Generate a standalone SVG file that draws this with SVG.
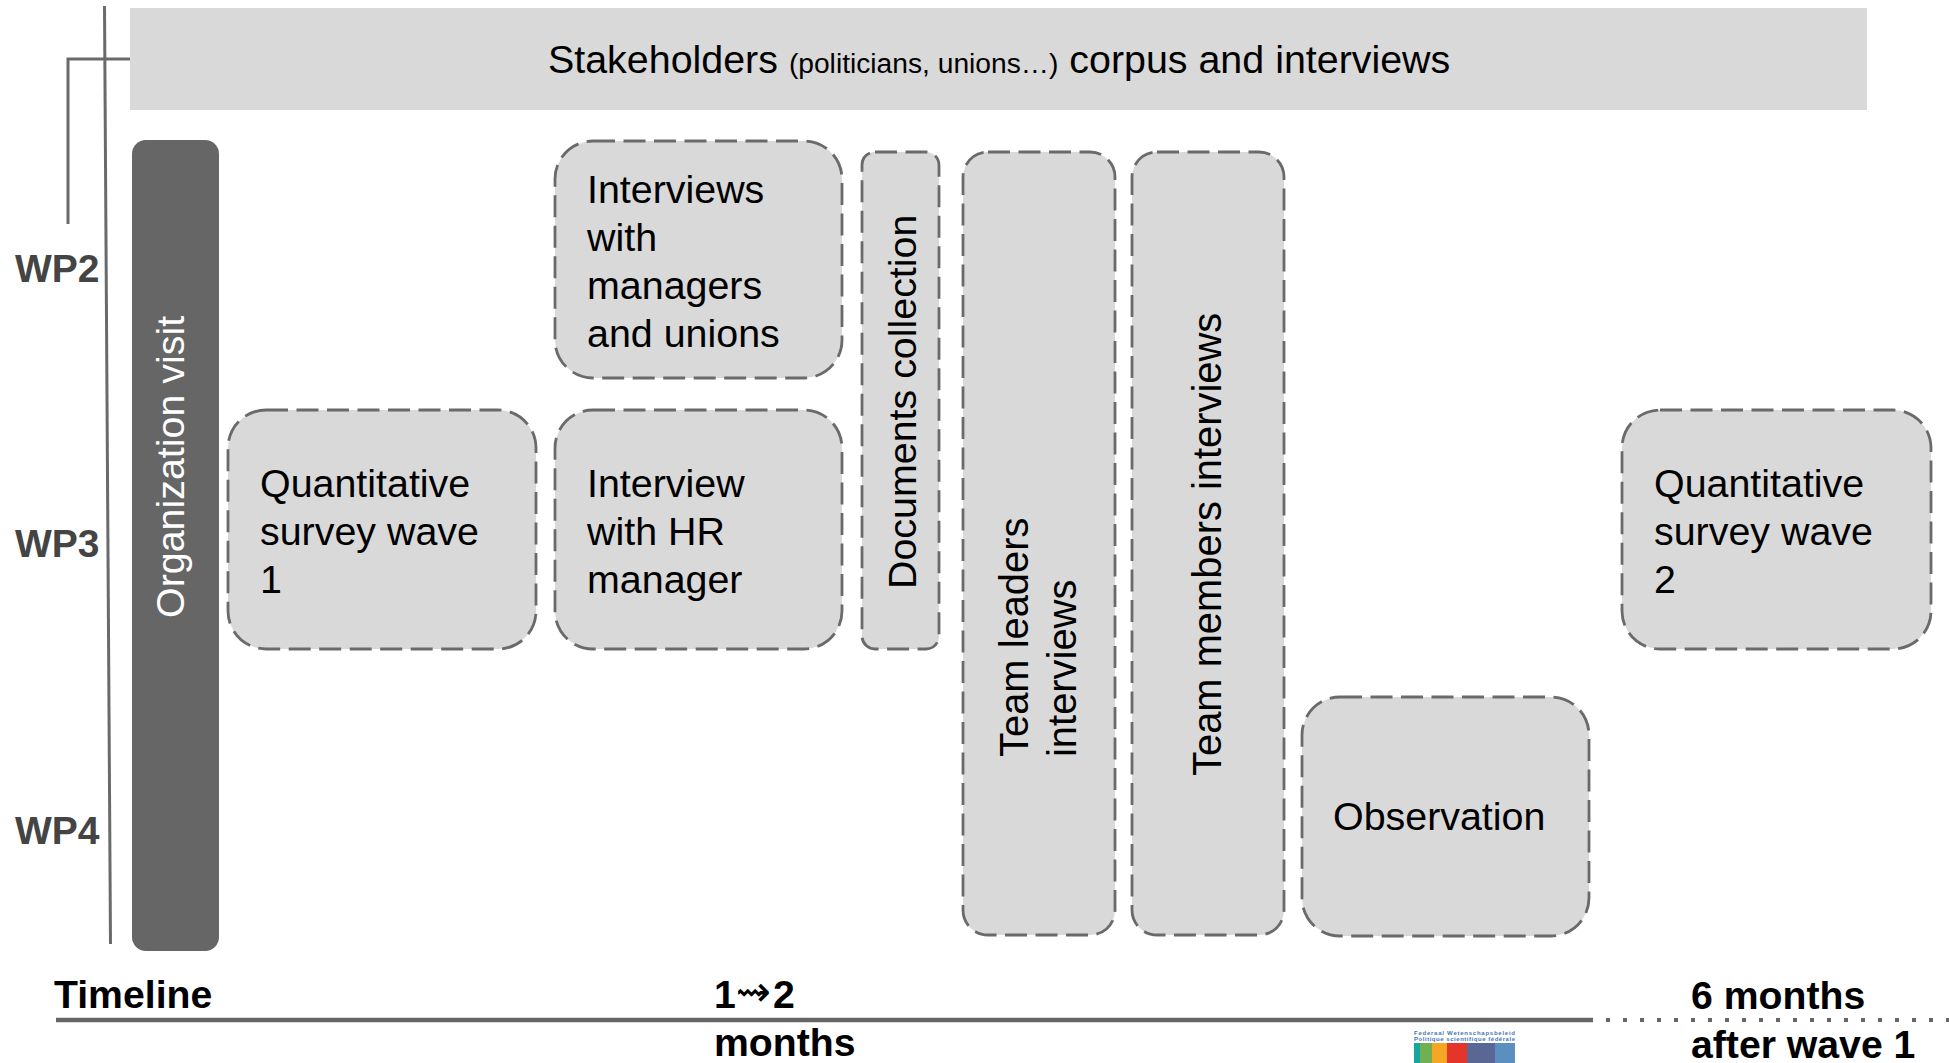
<svg xmlns="http://www.w3.org/2000/svg" width="1949" height="1063" viewBox="0 0 1949 1063">
<style>
text{font-family:"Liberation Sans",Arial,sans-serif;fill:#000}
.box{fill:#d9d9d9;stroke:#6a6a6a;stroke-width:2.800;stroke-dasharray:22 8.500}
.t{font-size:39.400px}
.v{font-size:39.900px}
.wp{font-size:39px;font-weight:bold;fill:#444}
.b{font-size:39.200px;font-weight:bold}
.line{fill:none;stroke:#6a6a6a;stroke-width:3}
</style>
<rect width="1949" height="1063" fill="#fff"/>
<g id="connectors">
<path class="line" d="M104.500 6L110.500 944"/>
<path class="line" d="M68 224V59H130"/>
<path d="M56 1020H1593" fill="none" stroke="#666" stroke-width="4.500"/>
<path d="M1606 1020H1949" fill="none" stroke="#666" stroke-width="4" stroke-dasharray="4 13"/>
</g>
<g id="stakeholders">
<rect x="130" y="8" width="1737" height="102" fill="#d9d9d9"/>
<text x="548" y="72.500" class="t">Stakeholders <tspan font-size="28.200">(politicians, unions…)</tspan> corpus and interviews</text>
</g>
<g id="organization-visit">
<rect x="132" y="140" width="87" height="811" rx="14" fill="#666"/>
<text transform="translate(184 618) rotate(-90)" class="t" style="fill:#fff">Organization visit</text>
</g>
<g id="interviews-managers">
<rect class="box" x="555" y="141" width="287" height="237" rx="38"/>
<text class="t" x="587" y="203">Interviews</text><text class="t" x="587" y="251">with</text><text class="t" x="587" y="299">managers</text><text class="t" x="587" y="347">and unions</text>
</g>
<g id="documents-collection">
<rect class="box" x="862" y="152" width="77" height="497" rx="13"/>
<text transform="translate(916 589) rotate(-90)" class="t">Documents collection</text>
</g>
<g id="team-leaders">
<rect class="box" x="963" y="152" width="152" height="783" rx="25"/>
<text transform="translate(1028 757) rotate(-90)" class="v">Team leaders</text>
<text transform="translate(1076 757) rotate(-90)" class="v">interviews</text>
</g>
<g id="team-members">
<rect class="box" x="1132" y="152" width="152" height="783" rx="25"/>
<text transform="translate(1221 776) rotate(-90)" class="v">Team members interviews</text>
</g>
<g id="survey-wave-1">
<rect class="box" x="228" y="410" width="308" height="239" rx="38"/>
<text class="t" x="260" y="496.500">Quantitative</text><text class="t" x="260" y="544.500">survey wave</text><text class="t" x="260" y="592.500">1</text>
</g>
<g id="interview-hr">
<rect class="box" x="555" y="410" width="287" height="239" rx="38"/>
<text class="t" x="587" y="496.500">Interview</text><text class="t" x="587" y="544.500">with HR</text><text class="t" x="587" y="592.500">manager</text>
</g>
<g id="observation">
<rect class="box" x="1302" y="697" width="287" height="239" rx="38"/>
<text class="t" x="1333" y="830">Observation</text>
</g>
<g id="survey-wave-2">
<rect class="box" x="1622" y="410" width="309" height="239" rx="38"/>
<text class="t" x="1654" y="496.500">Quantitative</text><text class="t" x="1654" y="544.500">survey wave</text><text class="t" x="1654" y="592.500">2</text>
</g>
<g id="labels">
<text class="wp" x="15" y="282">WP2</text>
<text class="wp" x="15" y="557">WP3</text>
<text class="wp" x="15" y="844">WP4</text>
<text class="b" x="54" y="1008">Timeline</text>
<text class="b" x="714" y="1008">1<tspan font-family="DejaVu Sans" font-size="42" font-weight="normal" dy="-2">⇝</tspan><tspan dx="2" dy="2">2</tspan></text>
<text class="b" x="714" y="1056">months</text>
<text class="b" x="1691" y="1009">6 months</text>
<text class="b" x="1691" y="1058">after wave 1</text>
</g>
<g id="logo">
<text x="1414" y="1035" font-size="6" font-weight="bold" textLength="101" style="fill:#3f78b5">Federaal Wetenschapsbeleid</text>
<text x="1414" y="1041" font-size="6" font-weight="bold" textLength="101" style="fill:#3f78b5">Politique scientifique fédérale</text>
<rect x="1414" y="1043" width="6" height="20" fill="#16a5a0"/>
<rect x="1420" y="1043" width="12" height="20" fill="#70b050"/>
<rect x="1432" y="1043" width="15" height="20" fill="#f5a623"/>
<rect x="1447" y="1043" width="20" height="20" fill="#e5352b"/>
<rect x="1467" y="1043" width="28" height="20" fill="#5a6794"/>
<rect x="1495" y="1043" width="20" height="20" fill="#5a8fc0"/>
</g>
</svg>
